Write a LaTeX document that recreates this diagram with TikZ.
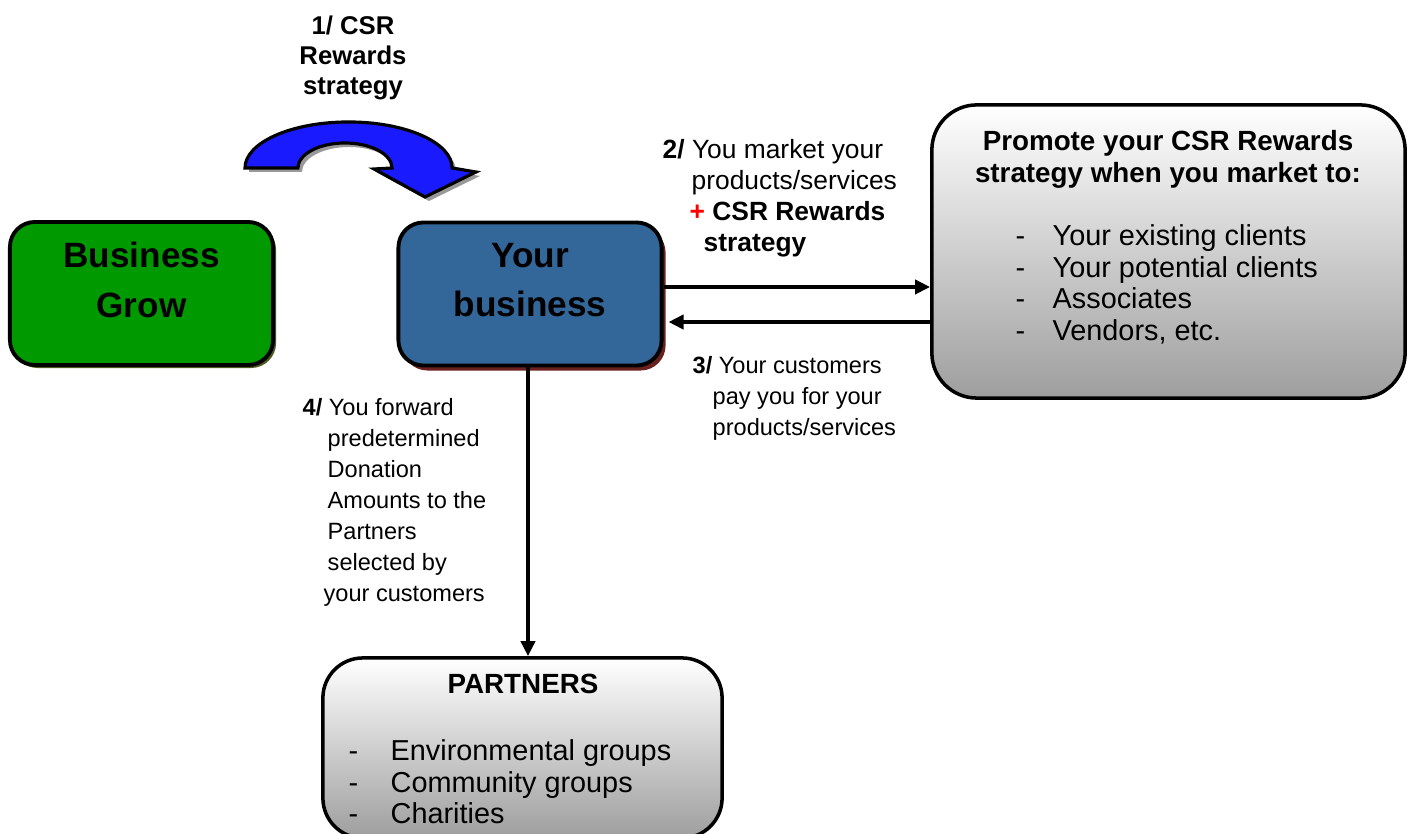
\documentclass[tikz,border=0pt]{standalone}
\usepackage{fontspec}
\setmainfont{Liberation Sans}
\usetikzlibrary{arrows.meta, positioning, shadows}
\definecolor{csrgreen}{HTML}{009900}
\definecolor{csrolive}{HTML}{4F5A22}
\definecolor{csrblue}{HTML}{336699}
\definecolor{csrmaroon}{HTML}{6B2020}
\definecolor{csrarrow}{HTML}{1A1AFF}
\definecolor{csrred}{HTML}{FF0000}

\begin{document}
\begin{tikzpicture}[x=0.01cm, y=-0.01cm,
  bigbox/.style={rectangle, rounded corners=0.25cm, draw=black, line width=1.1pt, minimum width=2.63cm, minimum height=1.43cm, fill=#1},
  greybox/.style={rectangle, rounded corners=#1, draw=black, line width=1pt, top color=white, middle color=black!10, bottom color=black!38},
  bigtxt/.style={font=\fontsize{10}{14}\selectfont\bfseries, align=center, inner sep=0pt},
  headtxt/.style={font=\fontsize{7.9}{9.1}\selectfont\bfseries, align=center, inner sep=0pt},
  listtxt/.style={font=\fontsize{8.2}{9}\selectfont, align=left, inner sep=0pt, anchor=north west},
  steptxt/.style={font=\fontsize{#1}{8.8}\selectfont, align=left, inner sep=0pt, anchor=north west},
  flow/.style={line width=1.1pt, -{Triangle[length=0.15cm, width=0.14cm]}},
]
\useasboundingbox (0,0) rectangle (1408,834);

% 1/ curved arrow
\node[font=\fontsize{7.3}{8.5}\selectfont\bfseries, align=center, inner sep=0pt, anchor=north] (lblone) at (353,15) {1/ CSR\\Rewards\\strategy};
\draw[line width=0.9pt, fill=csrarrow, general shadow={fill=black!40, shadow xshift=0.04cm, shadow yshift=-0.04cm}]
  (245,168) arc[start angle=180, end angle=0, x radius=1.035cm, y radius=0.46cm]
  -- (476,172) -- (425,197) -- (374,169) -- (392,168)
  arc[start angle=0, end angle=180, x radius=0.47cm, y radius=0.25cm] -- cycle;

% Boxes
\node[bigbox=csrgreen, general shadow={fill=csrolive, shadow xshift=0.03cm, shadow yshift=-0.03cm}] (grow) at (141.5,293.5) {};
\node[bigtxt] (growtxt) at (141.5,280) {Business\\Grow};

\node[bigbox=csrblue, general shadow={fill=csrmaroon, shadow xshift=0.04cm, shadow yshift=-0.05cm}] (biz) at (530,294) {};
\node[bigtxt] (biztxt) at (530,280) {Your\\business};

\node[greybox=0.45cm, minimum width=4.73cm, minimum height=2.93cm] (promo) at (1168.5,251.5) {};
\node[headtxt] (promotitle) at (1168,159) {Promote your CSR Rewards\\strategy when you market to:};
\node[listtxt] (promolist) at (1015,224) {\makebox[0.37cm][l]{-}Your existing clients\\\makebox[0.37cm][l]{-}Your potential clients\\\makebox[0.37cm][l]{-}Associates\\\makebox[0.37cm][l]{-}Vendors, etc.};

\node[greybox=0.4cm, minimum width=3.99cm, minimum height=1.8cm] (partners) at (522.5,748) {};
\node[headtxt] (partnerstitle) at (523,684) {PARTNERS};
\node[listtxt] (partnerslist) at (348,739) {\makebox[0.42cm][l]{-}Environmental groups\\\makebox[0.42cm][l]{-}Community groups\\\makebox[0.42cm][l]{-}Charities};

% Step labels
\node[steptxt=7.5] (lbltwo) at (662,139) {\textbf{2/} You market your\\\hspace*{0.29cm}products/services\\\hspace*{0.27cm}\textbf{\textcolor{csrred}{+} CSR Rewards}\\\hspace*{0.41cm}\textbf{strategy}};
\node[steptxt=6.7] (lblthree) at (692,356) {\textbf{3/} Your customers\\\hspace*{0.2cm}pay you for your\\\hspace*{0.2cm}products/services};
\node[steptxt=6.7] (lblfour) at (302,398) {\textbf{4/} You forward\\\hspace*{0.25cm}predetermined\\\hspace*{0.25cm}Donation\\\hspace*{0.25cm}Amounts to the\\\hspace*{0.25cm}Partners\\\hspace*{0.25cm}selected by\\\hspace*{0.21cm}your customers};

% Connections
\draw[flow] ([yshift=0.07cm]biz.east) -- ([yshift=0.07cm]biz.east -| promo.west);
\draw[flow] ([yshift=-0.28cm]biz.east -| promo.west) -- ([yshift=-0.28cm, xshift=0.05cm]biz.east);
\draw[flow] ([xshift=-0.02cm]biz.south) -- ([xshift=-0.02cm]biz.south |- partners.north);

\end{tikzpicture}
\end{document}
